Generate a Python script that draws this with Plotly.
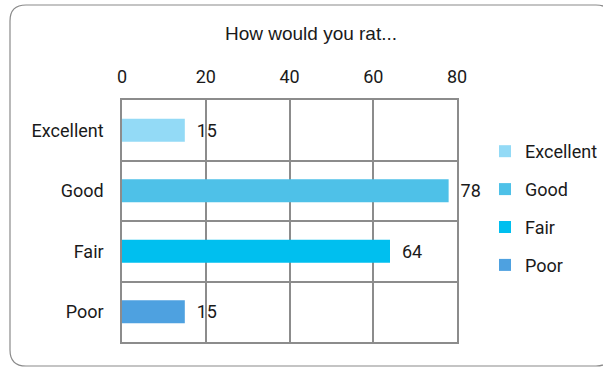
import plotly.graph_objects as go

# chart data
categories = ["Excellent", "Good", "Fair", "Poor"]
values = [15, 78, 64, 15]
colors = ["#93DAF6", "#4EC1E8", "#00BFEF", "#4EA1E0"]
x_ticks = [0, 20, 40, 60, 80]
title_text = "How would you rat..."

W, H = 603, 368
L, R, T, B = 122, 146, 100, 26
pw, ph = W - L - R, H - T - B


def px(x, y):
    # pixel -> paper coords
    return (x - L) / pw, (H - B - y) / ph


def rounded_rect(x0, y0, x1, y1, r):
    pts = []
    a = px(x0 + r, y0); pts.append(f"M{a[0]},{a[1]}")
    a = px(x1 - r, y0); pts.append(f"L{a[0]},{a[1]}")
    c = px(x1, y0); e = px(x1, y0 + r); pts.append(f"Q{c[0]},{c[1]} {e[0]},{e[1]}")
    a = px(x1, y1 - r); pts.append(f"L{a[0]},{a[1]}")
    c = px(x1, y1); e = px(x1 - r, y1); pts.append(f"Q{c[0]},{c[1]} {e[0]},{e[1]}")
    a = px(x0 + r, y1); pts.append(f"L{a[0]},{a[1]}")
    c = px(x0, y1); e = px(x0, y1 - r); pts.append(f"Q{c[0]},{c[1]} {e[0]},{e[1]}")
    a = px(x0, y0 + r); pts.append(f"L{a[0]},{a[1]}")
    c = px(x0, y0); e = px(x0 + r, y0); pts.append(f"Q{c[0]},{c[1]} {e[0]},{e[1]}")
    return " ".join(pts) + " Z"


font_family = "Roboto, Arial, sans-serif"

fig = go.Figure()
for i, (cat, val, col) in enumerate(zip(categories, values, colors)):
    fig.add_trace(go.Bar(
        y=[cat], x=[val], orientation="h", name=cat,
        marker=dict(color=col, line=dict(width=0)),
        width=0.38,
        text=[val], texttemplate="  %{x}", textposition="outside",
        textfont=dict(size=18, color="#1a1a1a"),
        cliponaxis=False,
        legendgroup=cat,
    ))

fig.update_layout(
    width=W, height=H,
    margin=dict(l=L, r=R, t=T, b=B, autoexpand=False),
    paper_bgcolor="white", plot_bgcolor="white",
    barmode="overlay",
    font=dict(family=font_family, size=18, color="#1a1a1a"),
    title=dict(text=title_text, x=(311 / W), xanchor="center", y=1 - 33 / H, yanchor="middle",
               font=dict(family="Liberation Sans, Arial, sans-serif", size=19, color="#1a1a1a")),
    xaxis=dict(side="top", range=[0, 80], tickvals=x_ticks, showgrid=True,
               gridcolor="#8c8c8c", gridwidth=1.5, showline=True, linecolor="#8c8c8c",
               linewidth=1.5, mirror=True, zeroline=False, ticks="", ticklabelstandoff=8,
               tickfont=dict(size=18)),
    yaxis=dict(type="category", categoryorder="array", categoryarray=categories,
               autorange="reversed", tickson="boundaries", showgrid=True,
               gridcolor="#8c8c8c", gridwidth=1.5, showline=True, linecolor="#8c8c8c",
               linewidth=1.5, mirror=True, ticks="", ticklabelstandoff=13,
               tickfont=dict(size=18)),
    legend=dict(x=px(485, 0)[0], y=px(0, 133)[1], xanchor="left", yanchor="top",
                font=dict(size=18), tracegroupgap=11.5, itemwidth=30,
                bgcolor="rgba(0,0,0,0)"),
    shapes=[dict(type="path", xref="paper", yref="paper",
                 path=rounded_rect(10, 5, 612, 366, 16),
                 line=dict(color="#8a8a8a", width=1.2), layer="below")],
)

fig.write_html("out.html", config={"displayModeBar": False},
               post_script="document.body.style.margin='0px';")
